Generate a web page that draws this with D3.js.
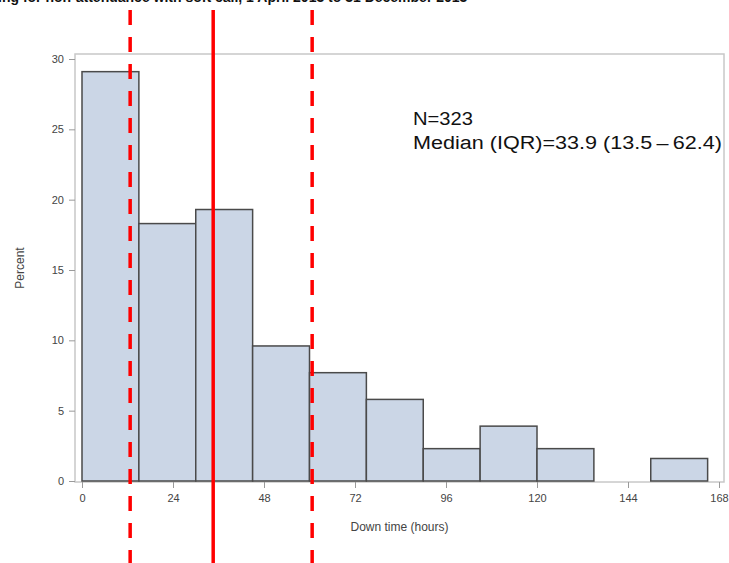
<!DOCTYPE html>
<html>
<head>
<meta charset="utf-8">
<script src="https://cdn.jsdelivr.net/npm/d3@7"></script>
<style>
  body { margin: 0; background: #fff; }
  svg { display: block; }
</style>
</head>
<body>
<svg id="chart"></svg>
<script>
// histogram bins (hours) and percent of cases
var binStarts = [0, 15, 30, 45, 60, 75, 90, 105, 120, 135, 150]
var binWidth = 15
var percents = [29.1, 18.3, 19.3, 9.6, 7.7, 5.8, 2.3, 3.9, 2.3, 0, 1.6]
var xTicks = [0, 24, 48, 72, 96, 120, 144, 168]
var yTicks = [0, 5, 10, 15, 20, 25, 30]
// red reference lines as drawn (hours): lower quartile, median, upper quartile
var quartileLines = [{v: 12.7, dash: true}, {v: 34.6, dash: false}, {v: 60.7, dash: true}]
var noteLines = ["N=323", "Median  (IQR)=33.9  (13.5\u2009\u2013\u200962.4)"]
var noteWidths = [60, 309]
var titleText = "ing for non-attendance with soft call, 1 April 2013 to 31 December 2013"

var W = 729, H = 563
var svg = d3.select("#chart").attr("width", W).attr("height", H)

var frame = {left: 75, right: 724, top: 54, bottom: 482}

var x = d3.scaleLinear().domain([0, 168]).range([82, 719])
var y = d3.scaleLinear().domain([0, 30]).range([481, 59])

// title, cut off at the top edge as in the source image
svg.append("text")
   .attr("x", -2).attr("y", 2)
   .attr("font-family", "Liberation Sans, Arial, sans-serif")
   .attr("font-size", 14).attr("font-weight", "bold")
   .attr("fill", "#111")
   .text(titleText)

// plot frame
svg.append("rect")
   .attr("x", frame.left).attr("y", frame.top)
   .attr("width", frame.right - frame.left).attr("height", frame.bottom - frame.top)
   .attr("fill", "none").attr("stroke", "#c8c8c8").attr("stroke-width", 1.5)

// bars
svg.append("g")
   .selectAll("rect")
   .data(binStarts.map((b, i) => ({b: b, p: percents[i]})).filter(d => d.p > 0))
   .join("rect")
   .attr("x", d => x(d.b))
   .attr("width", d => x(d.b + binWidth) - x(d.b))
   .attr("y", d => y(d.p))
   .attr("height", d => y(0) - y(d.p))
   .attr("fill", "#cbd6e6")
   .attr("stroke", "#4a4a4a")
   .attr("stroke-width", 1.5)

// y axis
var yAxis = svg.append("g")
   .attr("transform", `translate(${frame.left},0)`)
   .call(d3.axisLeft(y).tickValues(yTicks).tickSize(6).tickPadding(5))
yAxis.select(".domain").remove()
yAxis.selectAll("line").attr("stroke", "#9a9a9a")
yAxis.selectAll("text").attr("fill", "#444").attr("font-size", 11)
     .attr("font-family", "Liberation Sans, Arial, sans-serif")

// x axis
var xAxis = svg.append("g")
   .attr("transform", `translate(0,${frame.bottom})`)
   .call(d3.axisBottom(x).tickValues(xTicks).tickSize(6).tickPadding(6))
xAxis.select(".domain").remove()
xAxis.selectAll("line").attr("stroke", "#9a9a9a")
xAxis.selectAll("text").attr("fill", "#444").attr("font-size", 11)
     .attr("font-family", "Liberation Sans, Arial, sans-serif")

// axis labels
svg.append("text")
   .attr("x", (frame.left + frame.right) / 2).attr("y", 531)
   .attr("text-anchor", "middle")
   .attr("font-family", "Liberation Sans, Arial, sans-serif")
   .attr("font-size", 12).attr("fill", "#444")
   .text("Down time (hours)")

svg.append("text")
   .attr("transform", "translate(24,268) rotate(-90)")
   .attr("text-anchor", "middle")
   .attr("font-family", "Liberation Sans, Arial, sans-serif")
   .attr("font-size", 12).attr("fill", "#444")
   .text("Percent")

// red quartile / median lines
svg.append("g")
   .selectAll("line")
   .data(quartileLines)
   .join("line")
   .attr("x1", d => x(d.v)).attr("x2", d => x(d.v))
   .attr("y1", 10).attr("y2", H)
   .attr("stroke", "#ff0000")
   .attr("stroke-width", 3.5)
   .attr("stroke-dasharray", d => d.dash ? "15,12" : null)

// annotation
svg.append("g")
   .selectAll("text")
   .data(noteLines)
   .join("text")
   .attr("x", 413)
   .attr("y", (d, i) => 125 + i * 24)
   .attr("font-family", "Liberation Sans, Arial, sans-serif")
   .attr("font-size", 18).attr("fill", "#111")
   .attr("textLength", (d, i) => noteWidths[i])
   .attr("lengthAdjust", "spacingAndGlyphs")
   .text(d => d)
</script>
</body>
</html>
